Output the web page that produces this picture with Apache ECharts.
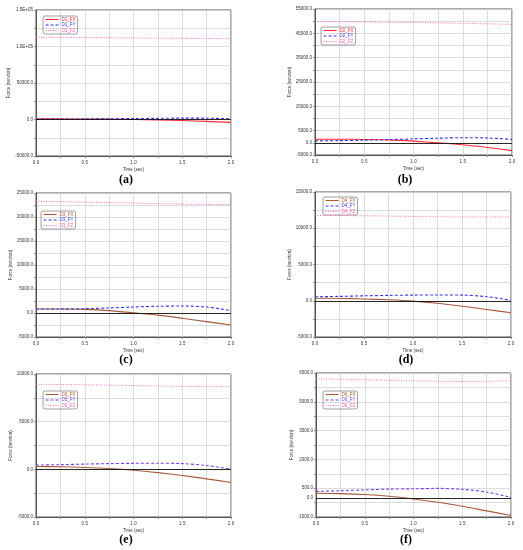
<!DOCTYPE html>
<html><head><meta charset="utf-8">
<script src="https://cdn.jsdelivr.net/npm/echarts@6/dist/echarts.min.js"></script>
<style>html,body{margin:0;padding:0;background:#fff}#c{width:523px;height:550px}</style>
</head><body><div id="c"></div>
<script>
// ---- shared x data ----
const time = [0, 0.25, 0.5, 0.75, 1.0, 1.25, 1.5, 1.75, 2.0];
const xTicks = [0, 0.25, 0.5, 0.75, 1.0, 1.25, 1.5, 1.75, 2.0];
const xLabels = [0, 0.5, 1.0, 1.5, 2.0];

// ---- panel (a) ----
const aNames = ['D1_FX', 'D1_FY', 'D1_FZ'];
const aFX = [800, 800, 700, 500, 0, -600, -1400, -2600, -4000];
const aFY = [500, 600, 800, 1000, 1300, 1600, 1900, 1800, 1000];
const aFZ = [112600, 112500, 112300, 112000, 111800, 111500, 111200, 111000, 110700];
const aYTicks = [-50000, -25000, 0, 25000, 50000, 75000, 100000, 125000, 150000];
const aYLabels = [-50000, 0, 50000, 100000, 150000];

// ---- panel (b) ----
const bNames = ['D2_FX', 'D2_FY', 'D2_FZ'];
const bFX = [1500, 1500, 1400, 1200, 700, 0, -800, -1900, -3200];
const bFY = [800, 900, 1100, 1300, 1600, 1900, 2100, 2000, 1400];
const bFZ = [49800, 49750, 49700, 49600, 49500, 49300, 49100, 48900, 48700];
const bYTicks = [-5000, 0, 5000, 10000, 15000, 20000, 25000, 30000, 35000, 40000, 45000, 50000, 55000];
const bYLabels = [-5000, 0, 5000, 15000, 25000, 35000, 45000, 55000];

// ---- panel (c) ----
const cNames = ['D3_FX', 'D3_FY', 'D3_FZ'];
const cFX = [830, 820, 750, 500, 50, -450, -1100, -1800, -2500];
const cFY = [830, 850, 900, 1050, 1250, 1400, 1450, 1250, 500];
const cFZ = [23250, 23200, 23100, 23000, 22900, 22800, 22700, 22620, 22560];
const cYTicks = [-5000, -2500, 0, 2500, 5000, 7500, 10000, 12500, 15000, 17500, 20000, 22500, 25000];
const cYLabels = [-5000, 0, 5000, 10000, 15000, 20000, 25000];

// ---- panel (d) ----
const dNames = ['D4_FX', 'D4_FY', 'D4_FZ'];
const dFX = [350, 320, 250, 130, -50, -350, -750, -1200, -1650];
const dFY = [550, 600, 680, 740, 780, 790, 780, 560, 50];
const dFZ = [11770, 11750, 11720, 11680, 11630, 11590, 11560, 11550, 11540];
const dYTicks = [-5000, -2500, 0, 2500, 5000, 7500, 10000, 12500, 15000];
const dYLabels = [-5000, 0, 5000, 10000, 15000];

// ---- panel (e) ----
const eNames = ['D5_FX', 'D5_FY', 'D5_FZ'];
const eFX = [300, 270, 200, 80, -100, -350, -650, -1000, -1380];
const eFY = [450, 490, 550, 600, 630, 640, 600, 400, 20];
const eFZ = [8920, 8900, 8870, 8830, 8780, 8740, 8700, 8680, 8670];
const eYTicks = [-5000, -2500, 0, 2500, 5000, 7500, 10000];
const eYLabels = [-5000, 0, 5000, 10000];

// ---- panel (f) ----
const fNames = ['D6_FX', 'D6_FY', 'D6_FZ'];
const fFX = [240, 220, 170, 80, -60, -230, -440, -680, -920];
const fFY = [330, 370, 410, 450, 470, 490, 440, 300, 20];
const fFZ = [6200, 6180, 6150, 6120, 6090, 6070, 6060, 6070, 6090];
const fYTicks = [-1000, -250, 500, 1250, 2000, 2750, 3500, 4250, 5000, 5750, 6500];
const fYLabels = [-1000, 0, 500, 2000, 3500, 5000, 6500];

const panelLetters = ['(a)', '(b)', '(c)', '(d)', '(e)', '(f)'];

// ---- layout / style (not data) ----
const layouts = [
  {grid: [36, 10, 195, 146],  legend: [43, 16],  label: [126, 180]},
  {grid: [315, 9, 197, 146],  legend: [321, 27], label: [405, 180]},
  {grid: [36, 193, 195, 144], legend: [41, 211], label: [126, 360]},
  {grid: [315, 192, 196, 145],legend: [323, 197],label: [406, 360]},
  {grid: [36, 374, 195, 143], legend: [43, 391], label: [126, 540]},
  {grid: [316, 373, 195, 144],legend: [323, 391],label: [406, 540]}
];
const palettes = [
  ['#ff2a3a', '#3535d8', '#ff5fa5'],
  ['#ff2a3a', '#3535d8', '#ff5fa5'],
  ['#a65a3c', '#3a3ad8', '#ff5fa5'],
  ['#a65a3c', '#3a3ad8', '#ff5fa5'],
  ['#a65a3c', '#7a40e0', '#e864c0'],
  ['#a65a3c', '#7a40e0', '#e864c0']
];
const lineTypes = ['solid', [3, 2], [1, 1.5]];
const lineWidths = [1.1, 1.1, 0.9];

const panels = [
  {names: aNames, fx: aFX, fy: aFY, fz: aFZ, ticks: aYTicks, labels: aYLabels},
  {names: bNames, fx: bFX, fy: bFY, fz: bFZ, ticks: bYTicks, labels: bYLabels},
  {names: cNames, fx: cFX, fy: cFY, fz: cFZ, ticks: cYTicks, labels: cYLabels},
  {names: dNames, fx: dFX, fy: dFY, fz: dFZ, ticks: dYTicks, labels: dYLabels},
  {names: eNames, fx: eFX, fy: eFY, fz: eFZ, ticks: eYTicks, labels: eYLabels},
  {names: fNames, fx: fFX, fy: fFY, fz: fFZ, ticks: fYTicks, labels: fYLabels}
];

function fmtY(v) {
  if (Math.abs(v) >= 100000) return (v / 100000).toFixed(1) + 'E+05';
  return Number(v).toFixed(1);
}

const grid = [], xAxis = [], yAxis = [], series = [], legend = [], graphic = [];
const FONT = 'Liberation Sans';
panels.forEach((p, i) => {
  const L = layouts[i], col = palettes[i];
  const ys = p.ticks;
  grid.push({left: L.grid[0], top: L.grid[1], width: L.grid[2], height: L.grid[3],
    show: true, borderColor: '#555', borderWidth: 1, outerBoundsMode: 'none'});
  xAxis.push({
    type: 'value', gridIndex: i, min: 0, max: 2,
    name: 'Time (sec)', nameLocation: 'middle', nameGap: 11,
    nameTextStyle: {fontSize: 4.5, color: '#333', fontFamily: FONT},
    axisLine: {show: true, onZero: false, lineStyle: {color: '#555'}},
    axisTick: {show: true, length: 2, customValues: xTicks, lineStyle: {color: '#888'}},
    axisLabel: {fontSize: 4.5, color: '#333', margin: 4, fontFamily: FONT,
      customValues: xLabels, formatter: v => Number(v).toFixed(1)},
    splitLine: {show: true, lineStyle: {color: '#d4d4d4', width: 0.8}}
  });
  yAxis.push({
    type: 'value', gridIndex: i, min: ys[0], max: ys[ys.length - 1],
    name: 'Force (newton)', nameLocation: 'middle', nameGap: 21,
    nameTextStyle: {fontSize: 4.5, color: '#333', fontFamily: FONT},
    axisLine: {show: true, lineStyle: {color: '#555'}},
    axisTick: {show: true, length: 2, customValues: p.ticks, lineStyle: {color: '#888'}},
    axisLabel: {fontSize: 4.5, color: '#333', margin: 3, fontFamily: FONT,
      customValues: p.labels, formatter: v => fmtY(v)},
    splitLine: {show: true, lineStyle: {color: '#d4d4d4', width: 0.8}}
  });
  const mk = (arr) => time.map((t, k) => [t, arr[k]]);
  // zero reference line (separate, not in legend)
  series.push({
    name: 'zero_' + i, type: 'line', xAxisIndex: i, yAxisIndex: i, data: [],
    symbol: 'none', z: 2,
    markLine: {silent: true, symbol: 'none', label: {show: false},
      lineStyle: {color: '#111', width: 0.9, type: 'solid'}, data: [{yAxis: 0}]}
  });
  const vals = [p.fx, p.fy, p.fz];
  vals.forEach((arr, k) => {
    series.push({
      name: p.names[k], type: 'line', xAxisIndex: i, yAxisIndex: i, data: mk(arr),
      symbol: 'none', smooth: 0.3,
      lineStyle: {color: col[k], width: lineWidths[k], type: lineTypes[k]},
      itemStyle: {color: col[k]}, z: k === 0 ? 3 : 4
    });
  });
  legend.push({
    left: L.legend[0], top: L.legend[1], orient: 'vertical',
    data: p.names.map((n, k) => ({
      name: n,
      textStyle: {color: col[k]},
      itemStyle: {color: 'rgba(0,0,0,0)', borderColor: 'rgba(0,0,0,0)', borderWidth: 0},
      lineStyle: {color: col[k], width: 1.1, type: lineTypes[k], opacity: 1}
    })),
    itemWidth: 13, itemHeight: 4, itemGap: 0.5,
    padding: [1, 2, 1, 2], borderColor: '#888', borderWidth: 0.8, borderRadius: 2,
    textStyle: {fontSize: 4.5, fontFamily: FONT, padding: [0, 0, 0, -2]},
    selectedMode: false
  });
  graphic.push({type: 'text', x: L.label[0], y: L.label[1],
    style: {text: panelLetters[i], fontFamily: 'Liberation Serif', fontWeight: 'bold',
      fontSize: 12, fill: '#000', textAlign: 'center', textVerticalAlign: 'middle'}});
});

const chart = echarts.init(document.getElementById('c'), null, {renderer: 'canvas'});
chart.setOption({
  animation: false, backgroundColor: '#fff',
  grid, xAxis, yAxis, series, legend, graphic
});
</script>
</body></html>
